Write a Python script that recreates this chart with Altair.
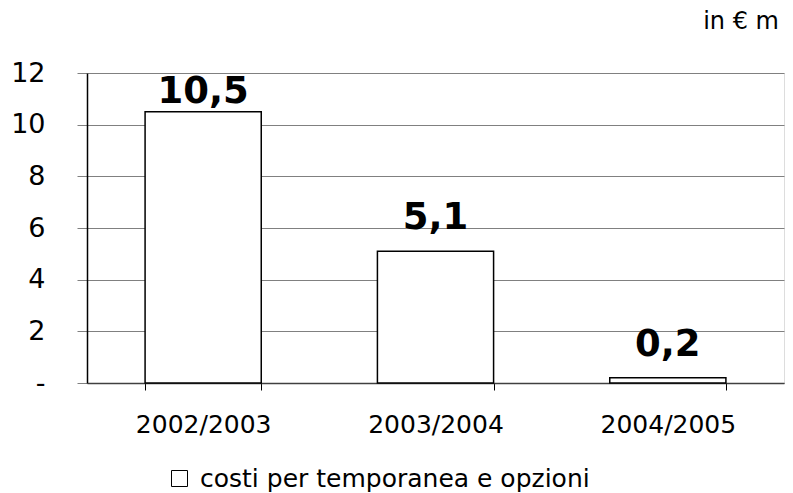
import altair as alt
import pandas as pd

years = ["2002/2003", "2003/2004", "2004/2005"]
values = [10.5, 5.1, 0.2]
series_name = "costi per temporanea e opzioni"
y_ticks = [0, 2, 4, 6, 8, 10, 12]

df = pd.DataFrame({"year": years, "value": values, "series": [series_name] * len(years)})

FONT = "DejaVu Sans"

base = alt.Chart(df).encode(
    x=alt.X(
        "year:N",
        sort=years,
        scale=alt.Scale(paddingInner=0.5, paddingOuter=0.25),
        axis=alt.Axis(
            title=None,
            labelAngle=0,
            tickBand="extent",
            tickSize=7,
            tickColor="black",
            tickWidth=1,
            domainColor="#404040",
            domainWidth=1.5,
            labelFont=FONT,
            labelFontSize=25,
            labelColor="black",
            labelPadding=22,
            grid=False,
        ),
    )
)

bars = base.mark_bar(stroke="black", strokeWidth=1.5).encode(
    y=alt.Y(
        "value:Q",
        scale=alt.Scale(domain=[0, 12], nice=False),
        axis=alt.Axis(
            title=None,
            values=y_ticks,
            labelExpr="datum.value == 0 ? '-' : datum.label",
            tickSize=10,
            tickColor="#808080",
            domainColor="black",
            domainWidth=1.5,
            gridColor="#808080",
            gridWidth=1,
            labelFont=FONT,
            labelFontSize=27,
            labelColor="black",
            labelPadding=32,
        ),
    ),
    color=alt.Color(
        "series:N",
        scale=alt.Scale(range=["white"]),
        legend=alt.Legend(
            title=None,
            orient="none",
            legendX=80,
            legendY=393,
            symbolType="square",
            symbolSize=256,
            symbolStrokeColor="black",
            symbolStrokeWidth=1,
            labelFont=FONT,
            labelFontSize=25,
            labelColor="black",
            labelOffset=8,
            labelLimit=0,
            padding=0,
        ),
    ),
)

labels = base.transform_calculate(
    labelY="min(datum.value + 0.85, 10.84)",
    label="replace(format(datum.value, '.1f'), '.', ',')",
).mark_text(
    font=FONT, fontWeight="bold", fontSize=37, baseline="alphabetic", color="black"
).encode(
    y=alt.Y("labelY:Q"),
    text="label:N",
)

chart = (
    alt.layer(bars, labels)
    .properties(
        width=697,
        height=310,
        autosize=alt.AutoSizeParams(type="none"),
        padding={"left": 79, "top": 65, "right": 1, "bottom": 110},
        title=alt.TitleParams(
            "in € m",
            anchor="end",
            frame="group",
            font=FONT,
            fontSize=24,
            fontWeight="normal",
            color="black",
            dx=-5,
            offset=25,
        ),
    )
    .configure_view(stroke="black", strokeWidth=1.5)
    .configure(background="white")
)

chart.save("out.html", embed_options={"renderer": "svg", "actions": False})
